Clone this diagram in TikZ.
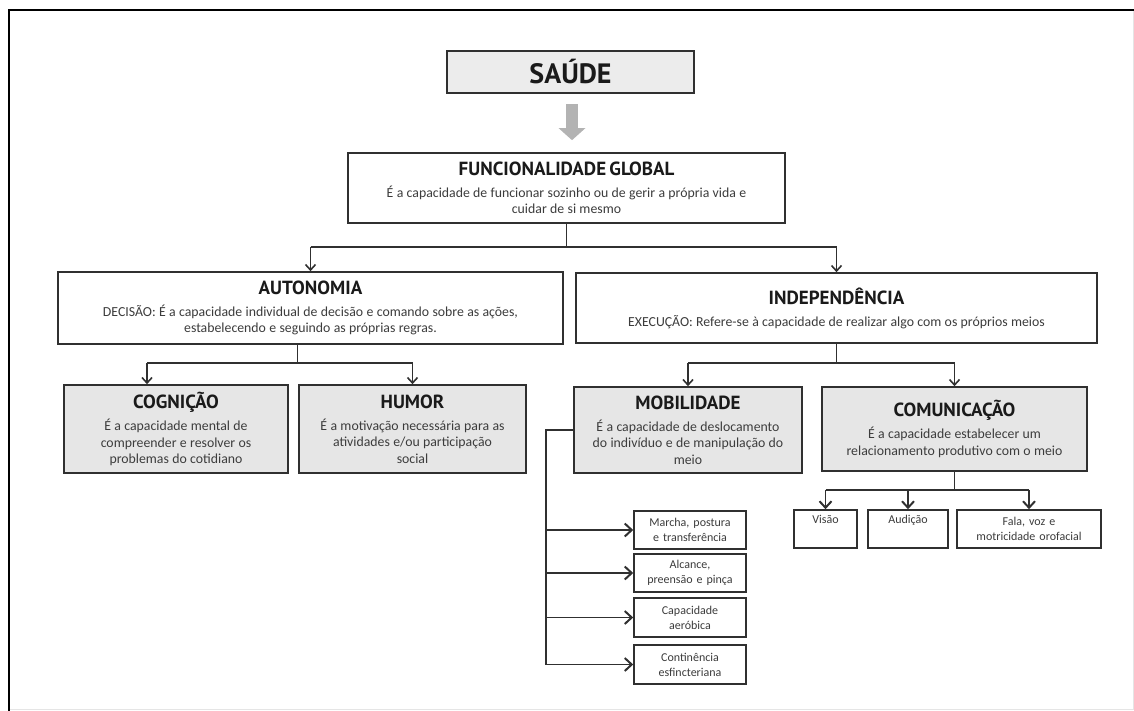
\documentclass[tikz,border=0pt]{standalone}
\usepackage{fontspec}
\setmainfont{Carlito}
\newfontfamily\headfamily{PT Sans}
\usetikzlibrary{arrows.meta,calc}
\definecolor{ink}{HTML}{1A1A1A}
\definecolor{txt}{HTML}{3C3C3C}
\definecolor{edge}{HTML}{303030}
\definecolor{boxfill}{HTML}{E6E6E6}
\definecolor{topfill}{HTML}{ECECEC}
\definecolor{pointer}{HTML}{B3B3B3}
\newcommand{\hdfont}{\headfamily\fontsize{19}{21}\selectfont\bfseries\color{ink}}
\newcommand{\txfont}{\fontsize{13.8}{16.5}\selectfont\color{txt}}
\newcommand{\smfont}{\fontsize{12}{15}\selectfont\color{txt}}
\newcommand{\boxtext}[2]{{\hdfont #1\par}\vspace{5.5pt}{\txfont #2\par}}

\begin{document}
\begin{tikzpicture}[x=1pt,y=-1pt,
  panel/.style={draw=edge, line width=1.6pt, rectangle, inner sep=0pt, align=center, fill=white},
  shaded/.style={panel, fill=boxfill},
  wire/.style={draw=edge, line width=1.5pt},
  tip/.style={wire, -{Straight Barb[length=5.5pt,width=10pt,line width=1.6pt]}},
  midtip/.style={wire, -{Straight Barb[length=6.5pt,width=12pt,line width=2pt]}},
  bigtip/.style={wire, -{Straight Barb[length=7pt,width=13pt,line width=2pt]}},
  leaf/.style={panel, font=\smfont},
]
\useasboundingbox (0,0) rectangle (1134,711);

% page frame
\draw[black!10, line width=1pt] (1133,10) -- (1133,709) -- (9,709);
\draw[black, line width=2.6pt] (9,711) -- (9,10) -- (1134,10);

% top level
\node[panel, fill=topfill, minimum width=247pt, minimum height=42pt] (saude) at (570.5,72)
  {\headfamily\fontsize{28}{30}\selectfont\bfseries\color{ink}SAÚDE};

\node[panel, minimum width=437pt, minimum height=70pt, text width=430pt] (fg) at (566.5,188)
  {\boxtext{FUNCIONALIDADE GLOBAL}{É a capacidade de funcionar sozinho ou de gerir a própria vida e\\cuidar de si mesmo}};

% second level
\node[panel, minimum width=505pt, minimum height=72pt, text width=495pt] (aut) at (310.5,308)
  {\boxtext{AUTONOMIA}{DECISÃO: É a capacidade individual de decisão e comando sobre as ações,\\estabelecendo e seguindo as próprias regras.}};
\node[panel, minimum width=521pt, minimum height=70pt, text width=510pt] (ind) at (836.5,308)
  {\boxtext{INDEPENDÊNCIA}{EXECUÇÃO: Refere-se à capacidade de realizar algo com os próprios meios}};

% third level
\node[shaded, minimum width=224pt, minimum height=88pt, text width=218pt] (cog) at (176,429)
  {\boxtext{COGNIÇÃO}{É a capacidade mental de\\compreender e resolver os\\problemas do cotidiano}};
\node[shaded, minimum width=227pt, minimum height=88pt, text width=221pt] (hum) at (412.5,429)
  {\boxtext{HUMOR}{É a motivação necessária para as\\atividades e/ou participação\\social}};
\node[shaded, minimum width=228pt, minimum height=86pt, text width=222pt] (mob) at (688,430)
  {\boxtext{MOBILIDADE}{É a capacidade de deslocamento\\do indivíduo e de manipulação do\\meio}};
\node[shaded, minimum width=265pt, minimum height=84pt, text width=258pt] (com) at (954.5,429)
  {\boxtext{COMUNICAÇÃO}{É a capacidade estabelecer um\\relacionamento produtivo com o meio}};

% mobility items
\node[leaf, minimum width=112pt, minimum height=38pt, text width=108pt] (b1) at (690,530) {Marcha, postura\\e transferência};
\node[leaf, minimum width=112pt, minimum height=38pt, text width=108pt] (b2) at (690,573) {Alcance,\\preensão e pinça};
\node[leaf, minimum width=112pt, minimum height=39pt, text width=108pt] (b3) at (690,617.5) {Capacidade\\aeróbica};
\node[leaf, minimum width=112pt, minimum height=39pt, text width=108pt] (b4) at (690,664.5) {Continência\\esfincteriana};

% communication items
\node[leaf, minimum width=63pt, minimum height=38pt, text width=60pt] (vis) at (825.5,529) {Visão\\\strut};
\node[leaf, minimum width=80pt, minimum height=38pt, text width=76pt] (aud) at (908,529) {Audição\\\strut};
\node[leaf, minimum width=144pt, minimum height=38pt, text width=140pt] (fala) at (1029,529) {Fala, voz e\\motricidade orofacial};

% pointer from SAÚDE
\draw[draw=pointer, line width=12pt, -{Triangle[length=12pt,width=26pt]}]
  ($(saude.south)+(1.5,10)$) -- ($(fg.north)+(5.5,-12)$);

% bus levels
\coordinate (busA) at (0,247);
\coordinate (busB) at (0,363);
\coordinate (busC) at (0,490);
\coordinate (spine) at (546,0);

% global -> autonomy / independence
\draw[wire] (fg.south) -- (fg.south |- busA);
\draw[wire] (aut.north |- busA) -- (ind.north |- busA);
\draw[tip] (aut.north |- busA) -- (aut.north);
\draw[tip] (ind.north |- busA) -- (ind.north);

% autonomy -> cognition / humor
\coordinate (autdrop) at ($(aut.south)+(-13,0)$);
\coordinate (cogin) at ($(cog.north)+(-29,0)$);
\draw[wire] (autdrop) -- (autdrop |- busB);
\draw[wire] (cogin |- busB) -- (hum.north |- busB);
\draw[tip] (cogin |- busB) -- (cogin);
\draw[tip] (hum.north |- busB) -- (hum.north);

% independence -> mobility / communication
\draw[wire] (ind.south) -- (ind.south |- busB);
\draw[wire] (mob.north |- busB) -- (com.north |- busB);
\draw[tip] (mob.north |- busB) -- (mob.north);
\draw[tip] (com.north |- busB) -- (com.north);

% communication -> items
\draw[wire] (com.south) -- (com.south |- busC);
\draw[wire] (vis.north |- busC) -- (fala.north |- busC);
\draw[midtip] (vis.north |- busC) -- (vis.north);
\draw[midtip] (aud.north |- busC) -- (aud.north);
\draw[midtip] (fala.north |- busC) -- (fala.north);

% mobility -> items
\draw[wire] (mob.west) -- (mob.west -| spine) -- (b4.west -| spine);
\draw[bigtip] (b1.west -| spine) -- (b1.west);
\draw[bigtip] (b2.west -| spine) -- (b2.west);
\draw[bigtip] (b3.west -| spine) -- (b3.west);
\draw[bigtip] (b4.west -| spine) -- (b4.west);
\end{tikzpicture}
\end{document}
